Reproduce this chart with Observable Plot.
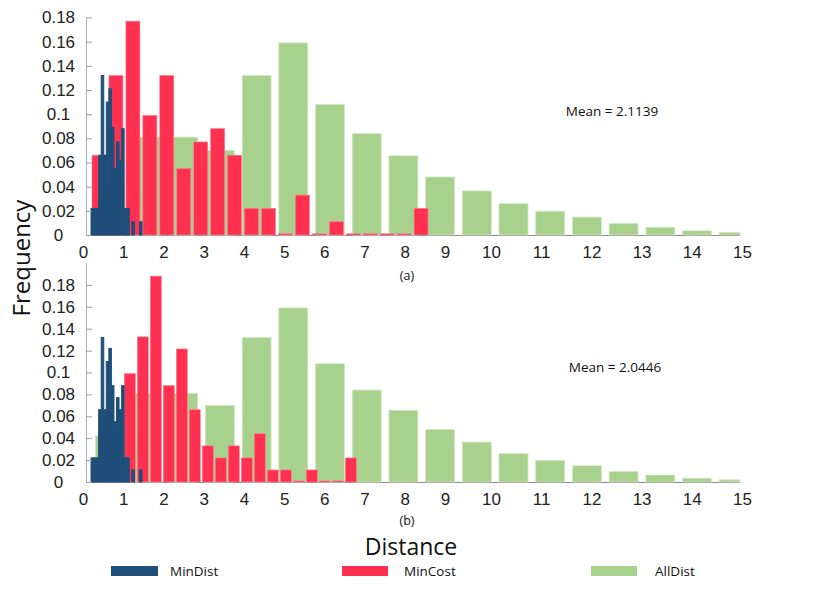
<!DOCTYPE html>
<html><head><meta charset="utf-8">
<script src="https://cdn.jsdelivr.net/npm/d3@7"></script>
<script src="https://cdn.jsdelivr.net/npm/@observablehq/plot@0.6"></script>
<style>
body{margin:0;background:#fff;}
#wrap{position:relative;width:830px;height:589px;overflow:hidden;font-family:"Open Sans",sans-serif;color:#111;background:#fff;}
.lbl{position:absolute;transform:translate(-50%,-50%);white-space:nowrap;}
.abs{position:absolute;left:0;}
.sw{position:absolute;height:10px;}
.lt{position:absolute;transform:translateY(-50%);font-size:13.5px;white-space:nowrap;}
</style></head><body>
<div id="wrap">
  <div id="pa" class="abs" style="top:0"></div>
  <div id="pb" class="abs" style="top:250px"></div>
  <div class="lbl" style="left:612px;top:111px;font-size:13.5px">Mean = 2.1139</div>
  <div class="lbl" style="left:615px;top:367px;font-size:13.5px">Mean = 2.0446</div>
  <div class="lbl" style="left:407px;top:275px;font-size:12.5px">(a)</div>
  <div class="lbl" style="left:407px;top:520px;font-size:12.5px">(b)</div>
  <div class="lbl" style="left:20px;top:258px;font-size:24px;transform:translate(-50%,-50%) rotate(-90deg)">Frequency</div>
  <div class="lbl" style="left:411px;top:546px;font-size:23px">Distance</div>
  <div id="legend"></div>
</div>
<script>
// ---- data ----
const seriesNames = ["MinDist", "MinCost", "AllDist"];
const xTicks = [0,1,2,3,4,5,6,7,8,9,10,11,12,13,14,15];
const yTicks = [0,0.02,0.04,0.06,0.08,0.1,0.12,0.14,0.16,0.18];

// MinDist bins (shared edges)
const minDistEdges = [0.199,0.262,0.326,0.389,0.453,0.516,0.579,0.643,0.706,0.770,0.833,0.896,0.960,1.023,1.087,1.150,1.213,1.277,1.340,1.404,1.467];
const minDistA = [0.022,0.022,0.022,0.066,0.132,0.066,0.110,0.121,0.089,0.055,0.077,0.062,0.088,0.022,0.022,0,0.011,0,0,0.011];
const minDistB = [0.022,0.022,0.022,0.066,0.132,0.066,0.110,0.122,0.088,0.055,0.077,0.066,0.088,0.022,0.022,0,0.011,0,0,0.011];

// MinCost bins, panel (a)
const minCostA_x1 = [0.224,0.645,1.067,1.488,1.909,2.331,2.752,3.174,3.595,4.016,4.438,4.859,5.281,5.702,6.124,6.545,6.966,7.388,7.809,8.231];
const minCostA_x2 = [0.572,0.993,1.415,1.836,2.257,2.679,3.100,3.522,3.943,4.364,4.786,5.207,5.629,6.050,6.472,6.893,7.314,7.736,8.157,8.578];
const minCostA = [0.066,0.132,0.177,0.099,0.132,0.055,0.077,0.088,0.066,0.022,0.022,0.001,0.033,0.001,0.011,0.001,0.001,0.001,0.001,0.022];

// MinCost bins, panel (b)
const minCostB_x1 = [0.380,0.704,1.027,1.350,1.673,1.996,2.320,2.643,2.966,3.289,3.612,3.936,4.259,4.582,4.905,5.228,5.552,5.875,6.198,6.521];
const minCostB_x2 = [0.654,0.977,1.300,1.623,1.947,2.270,2.593,2.916,3.240,3.563,3.886,4.209,4.532,4.856,5.179,5.502,5.825,6.148,6.472,6.795];
const minCostB = [0.044,0.044,0.099,0.1325,0.188,0.088,0.1215,0.066,0.033,0.022,0.033,0.022,0.044,0.011,0.011,0.001,0.011,0.001,0.001,0.022];

// AllDist bins (same in both panels)
const allDist_x1 = [0.306,1.218,2.131,3.043,3.956,4.868,5.781,6.693,7.606,8.518,9.376,10.159,10.890,11.622,12.353,13.084,13.815,14.548];
const allDist_x2 = [1.027,1.939,2.852,3.764,4.677,5.589,6.502,7.414,8.326,9.209,10.006,10.737,11.468,12.199,12.930,13.661,14.392,14.960];
const allDist = [0.042,0.081,0.081,0.070,0.132,0.159,0.108,0.084,0.0655,0.048,0.0365,0.026,0.0197,0.0148,0.0096,0.0064,0.0035,0.002];

const colors = {MinDist: "#1f4e79", MinCost: "#ff3050", AllDist: "#a9d18e"};

function rows(x1, x2, v) {
  return v.map((d, i) => ({x1: x1[i], x2: x2[i], y1: 0, y2: d})).filter(d => d.y2 > 0);
}

function panel(blueVals, redX1, redX2, redVals, yMax, mt, h) {
  const blue = rows(minDistEdges.slice(0, -1), minDistEdges.slice(1), blueVals);
  const red = rows(redX1, redX2, redVals);
  const green = rows(allDist_x1, allDist_x2, allDist);
  return Plot.plot({
    width: 830, height: h,
    marginTop: mt, marginBottom: 30, marginLeft: 86, marginRight: 90,
    x: {type: "linear", domain: [0, 9, 10, 15], range: [83, 445, 491, 742], label: null},
    y: {domain: [0, yMax], label: null},
    style: {fontFamily: "'Liberation Sans', Arial, sans-serif", fontSize: "17px", background: "transparent", overflow: "visible", color: "#222"},
    marks: [
      Plot.ruleY([0], {stroke: "#8a8a8a", strokeWidth: 1.2}),
      Plot.ruleX([0], {stroke: "#b0b0b0", dx: 3}),
      Plot.rect(green, {x1: "x1", x2: "x2", y1: "y1", y2: "y2", fill: colors.AllDist, stroke: "#d4e8c6", strokeWidth: 0.8, inset: 0}),
      Plot.rect(red, {x1: "x1", x2: "x2", y1: "y1", y2: "y2", fill: colors.MinCost, stroke: "#ff7d92", strokeWidth: 0.6, inset: 0}),
      Plot.rect(blue, {x1: "x1", x2: "x2", y1: "y1", y2: "y2", fill: colors.MinDist, stroke: colors.MinDist, strokeWidth: 1, inset: 0, shapeRendering: "geometricPrecision"}),
      Plot.axisY({ticks: yTicks, tickSize: -6, stroke: "#a0a0a0", tickFormat: () => "", label: null}),
      Plot.axisY({ticks: yTicks, tickSize: 0, tickPadding: 28, textAnchor: "middle", tickFormat: d => d3.format("~g")(d), label: null}),
      Plot.axisX({ticks: xTicks, tickSize: 0, tickPadding: 10, tickFormat: d => String(d), label: null})
    ]
  });
}

document.getElementById("pa").appendChild(panel(minDistA, minCostA_x1, minCostA_x2, minCostA, 0.18, 17.5, 265));
document.getElementById("pb").appendChild(panel(minDistB, minCostB_x1, minCostB_x2, minCostB, 0.2, 13, 262));

// legend
const legendPos = {MinDist: [111, 47, 170], MinCost: [342, 46, 404], AllDist: [591, 46, 655]};
const lg = document.getElementById("legend");
for (const name of seriesNames) {
  const [sx, sw, tx] = legendPos[name];
  const s = document.createElement("div");
  s.className = "sw";
  s.style.cssText = `left:${sx}px;top:566px;width:${sw}px;background:${colors[name]}`;
  lg.appendChild(s);
  const t = document.createElement("div");
  t.className = "lt";
  t.style.cssText = `left:${tx}px;top:571px`;
  t.textContent = name;
  lg.appendChild(t);
}
</script>
</body></html>
